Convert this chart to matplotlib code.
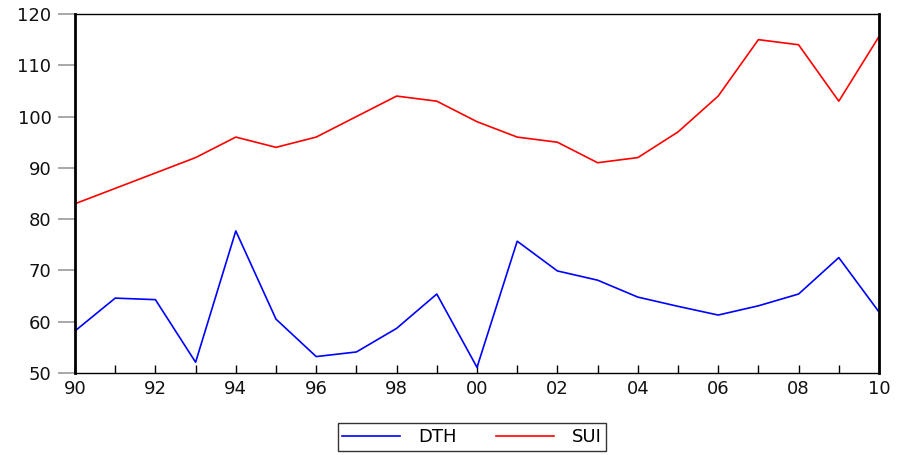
import matplotlib.pyplot as plt

years = list(range(1990, 2011))
dth = [58.2, 64.6, 64.3, 52.1, 77.7, 60.5, 53.2, 54.1, 58.7, 65.4, 51.1,
       75.7, 69.9, 68.1, 64.8, 63.0, 61.3, 63.1, 65.4, 72.5, 61.9]
sui = [83, 86, 89, 92, 96, 94, 96, 100, 104, 103, 99,
       96, 95, 91, 92, 97, 104, 115, 114, 103, 115.6]
yticks = [50, 60, 70, 80, 90, 100, 110, 120]
xlabels = ["90", "92", "94", "96", "98", "00", "02", "04", "06", "08", "10"]

plt.rcParams['font.family'] = ['DejaVu Sans']

fig = plt.figure(figsize=(8.97, 4.55), dpi=100)
ax = fig.add_axes([75 / 897, 1 - 373 / 455, 804 / 897, 359 / 455])

ax.plot(years, dth, color='blue', lw=1.2, label='DTH')
ax.plot(years, sui, color='red', lw=1.2, label='SUI')

ax.set_xlim(1990, 2010)
ax.set_ylim(50, 120)
ax.set_yticks(yticks)
ax.tick_params(axis='y', direction='out', length=12, width=1.2, color='#999999',
               labelsize=13, pad=5, labelcolor='#111111')
ax.set_xticks(years, minor=True)
ax.set_xticks(range(1990, 2011, 2))
ax.set_xticklabels(xlabels)
ax.tick_params(axis='x', which='both', direction='in', length=6, width=1,
               labelsize=13, pad=5, labelcolor='#111111')

for side in ['left', 'right']:
    ax.spines[side].set_linewidth(2)
ax.spines['bottom'].set_linewidth(1)
ax.spines['top'].set_linewidth(1)

fig.legend(loc='center', bbox_to_anchor=(472 / 897, 1 - 437 / 455), ncol=2,
           frameon=True, fancybox=False, edgecolor='#333333', fontsize=13,
           handlelength=3.2, columnspacing=2.2, borderpad=0.25,
           handletextpad=1.0, framealpha=1)

fig.savefig('out.png', dpi=100)
